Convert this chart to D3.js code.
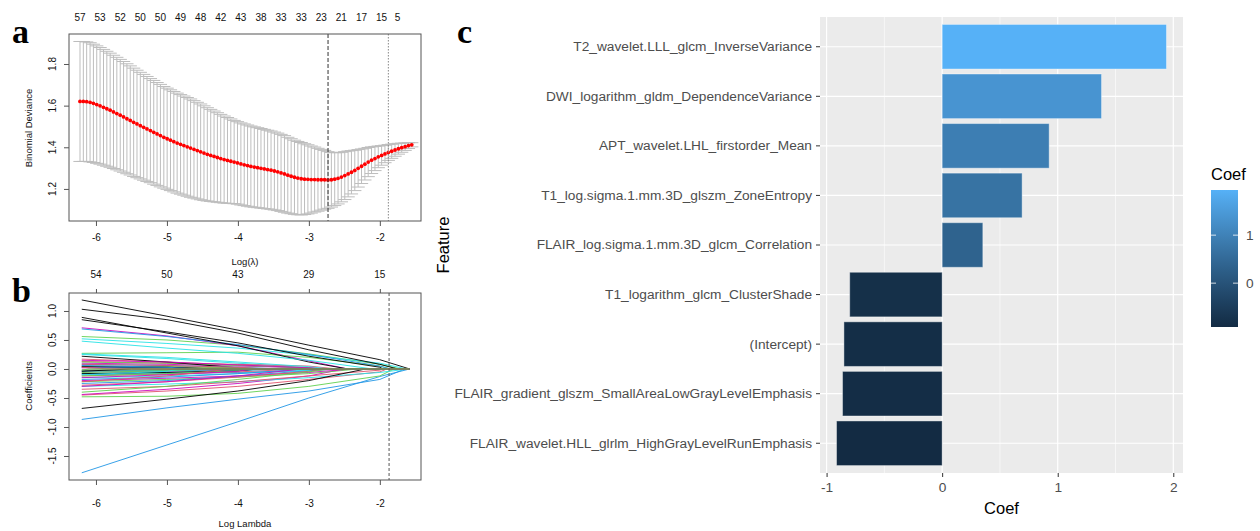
<!DOCTYPE html>
<html>
<head>
<meta charset="utf-8">
<script src="https://cdn.jsdelivr.net/npm/d3@7"></script>
<style>
  body { margin: 0; background: #fff; }
  svg { display: block; font-family: "Liberation Sans", Arial, sans-serif; }
</style>
</head>
<body>
<svg width="1260" height="531"></svg>
<script>
// ---------- panel a : cross-validated binomial deviance ----------
var logLambda = [
  -6.225, -6.178, -6.131, -6.083, -6.036, -5.989, -5.942, -5.894, -5.847, -5.800,
  -5.753, -5.706, -5.658, -5.611, -5.564, -5.517, -5.469, -5.422, -5.375, -5.328,
  -5.281, -5.233, -5.186, -5.139, -5.092, -5.044, -4.997, -4.950, -4.903, -4.856,
  -4.808, -4.761, -4.714, -4.667, -4.619, -4.572, -4.525, -4.478, -4.431, -4.383,
  -4.336, -4.289, -4.242, -4.194, -4.147, -4.100, -4.053, -4.006, -3.958, -3.911,
  -3.864, -3.817, -3.769, -3.722, -3.675, -3.628, -3.581, -3.533, -3.486, -3.439,
  -3.392, -3.344, -3.297, -3.250, -3.203, -3.156, -3.108, -3.061, -3.014, -2.967,
  -2.919, -2.872, -2.825, -2.778, -2.731, -2.683, -2.636, -2.589, -2.542, -2.494,
  -2.447, -2.400, -2.353, -2.306, -2.258, -2.211, -2.164, -2.117, -2.069, -2.022,
  -1.975, -1.928, -1.881, -1.833, -1.786, -1.739, -1.692, -1.644, -1.597, -1.550
];
var cvm = [
  1.620, 1.620, 1.619, 1.616, 1.611, 1.605, 1.599, 1.592, 1.585, 1.578,
  1.570, 1.562, 1.554, 1.546, 1.537, 1.529, 1.520, 1.512, 1.504, 1.496,
  1.488, 1.480, 1.472, 1.464, 1.456, 1.448, 1.441, 1.434, 1.427, 1.420,
  1.414, 1.408, 1.402, 1.396, 1.390, 1.384, 1.378, 1.372, 1.366, 1.361,
  1.356, 1.351, 1.346, 1.341, 1.337, 1.333, 1.329, 1.325, 1.320, 1.316,
  1.312, 1.308, 1.305, 1.302, 1.299, 1.296, 1.293, 1.290, 1.286, 1.282,
  1.277, 1.272, 1.266, 1.261, 1.256, 1.252, 1.249, 1.247, 1.246, 1.245,
  1.245, 1.244, 1.244, 1.244, 1.243, 1.244, 1.247, 1.251, 1.257, 1.264,
  1.272, 1.280, 1.289, 1.299, 1.309, 1.319, 1.329, 1.338, 1.346, 1.354,
  1.361, 1.368, 1.375, 1.381, 1.387, 1.393, 1.398, 1.403, 1.408, 1.412
];
var cvsd = [
  0.288, 0.288, 0.287, 0.286, 0.284, 0.282, 0.280, 0.278, 0.276, 0.274,
  0.272, 0.270, 0.268, 0.266, 0.264, 0.262, 0.260, 0.258, 0.256, 0.254,
  0.252, 0.250, 0.249, 0.247, 0.246, 0.244, 0.243, 0.242, 0.241, 0.240,
  0.239, 0.238, 0.237, 0.236, 0.234, 0.232, 0.230, 0.227, 0.224, 0.221,
  0.218, 0.215, 0.212, 0.209, 0.206, 0.203, 0.200, 0.198, 0.197, 0.196,
  0.195, 0.194, 0.193, 0.192, 0.191, 0.190, 0.189, 0.188, 0.187, 0.186,
  0.185, 0.184, 0.182, 0.180, 0.178, 0.176, 0.174, 0.170, 0.166, 0.161,
  0.156, 0.151, 0.146, 0.141, 0.136, 0.131, 0.127, 0.123, 0.119, 0.115,
  0.110, 0.104, 0.097, 0.090, 0.083, 0.076, 0.070, 0.064, 0.058, 0.052,
  0.047, 0.042, 0.038, 0.034, 0.030, 0.026, 0.022, 0.018, 0.014, 0.010
];
// number of non-zero coefficients printed along the top of panel a
var nzeroAt = [-6.225, -5.942, -5.658, -5.375, -5.092, -4.808, -4.525, -4.242, -3.958,
               -3.675, -3.392, -3.108, -2.825, -2.542, -2.258, -1.975, -1.75];
var nzeroLabels = ["57", "53", "52", "50", "50", "49", "48", "42", "43",
                   "38", "33", "33", "23", "21", "17", "15", "5"];
var lambdaMin = -2.73, lambda1se = -1.88;

// ---------- panel b : coefficient paths ----------
// value at logLambda -6.2, -5, -4, -3, -2 and the logLambda where it reaches 0
var pathKnots = [-6.2, -5, -4, -3, -2];
var pathEnd = -1.58;
var coefPaths = [
  [1.19, 0.91, 0.67, 0.41, 0.16, -1.58],
  [0.17, 0.12, 0.07, 0.02, 0, -2.85],
  [0.56, 0.50, 0.41, 0.26, 0.08, -1.70],
  [-1.79, -1.31, -0.91, -0.50, -0.13, -1.58],
  [0.52, 0.44, 0.36, 0.24, 0.10, -1.62],
  [0.71, 0.57, 0.40, 0.14, 0, -2.45],
  [1.03, 0.85, 0.62, 0.33, 0.08, -1.75],
  [-0.45, -0.38, -0.30, -0.18, -0.05, -1.90],
  [0.27, 0.28, 0.29, 0.20, 0.05, -1.85],
  [0.69, 0.56, 0.42, 0.25, 0.05, -1.85],
  [0.25, 0.18, 0.10, 0.02, 0, -2.90],
  [-0.44, -0.35, -0.25, -0.12, 0, -2.50],
  [0.89, 0.62, 0.40, 0.12, 0, -2.45],
  [0.13, 0.10, 0.08, 0.05, 0, -2.60],
  [-0.48, -0.47, -0.42, -0.30, -0.12, -1.80],
  [-0.87, -0.67, -0.52, -0.38, -0.18, -1.65],
  [-0.30, -0.26, -0.22, -0.15, -0.06, -1.60],
  [0.10, 0.08, 0.05, 0.02, 0, -2.70],
  [0.85, 0.64, 0.45, 0.22, 0.03, -1.95],
  [-0.35, -0.30, -0.22, -0.12, -0.02, -1.95],
  [-0.22, -0.18, -0.14, -0.08, 0, -2.30],
  [-0.10, -0.08, -0.06, -0.03, 0, -2.60],
  [0.48, 0.36, 0.27, 0.15, 0, -2.10],
  [-0.20, -0.16, -0.12, -0.06, 0, -2.40],
  [-0.68, -0.52, -0.38, -0.20, 0, -2.20],
  [0.05, 0.04, 0.02, 0, 0, -3.30],
  [0.12, 0.10, 0.06, 0.02, 0, -2.90],
  [-0.25, -0.20, -0.12, -0.03, 0, -2.80],
  [0.26, 0.20, 0.12, 0.04, 0, -2.70],
  [-0.05, -0.04, -0.02, 0, 0, -3.20],
  [0.22, 0.12, 0.02, 0, 0, -3.90],
  [-0.28, -0.22, -0.14, -0.04, 0, -2.75],
  [-0.40, -0.30, -0.18, -0.05, 0, -2.70],
  [0.08, 0.06, 0.03, 0, 0, -3.40],
  [-0.15, -0.12, -0.08, -0.02, 0, -2.90],
  [0.15, 0.12, 0.07, 0.02, 0, -2.80],
  [-0.02, -0.02, -0.01, 0, 0, -3.50],
  [-0.12, -0.09, -0.05, 0, 0, -3.10],
  [0.05, 0.04, 0.02, 0, 0, -3.60],
  [-0.18, -0.14, -0.08, 0, 0, -3.05],
  [-0.08, -0.06, -0.03, 0, 0, -3.40],
  [-0.30, -0.22, -0.12, 0, 0, -3.10],
  [-0.08, -0.06, -0.03, 0, 0, -3.70],
  [0.08, 0.06, 0.03, 0, 0, -3.60],
  [-0.12, -0.08, -0.03, 0, 0, -3.80],
  [0.03, 0.02, 0, 0, 0, -4.20],
  [-0.04, -0.03, -0.01, 0, 0, -3.90],
  [-0.15, -0.10, -0.04, 0, 0, -3.80],
  [0.04, 0.03, 0, 0, 0, -4.30],
  [-0.22, -0.12, 0, 0, 0, -4.10],
  [-0.06, -0.03, 0, 0, 0, -4.50],
  [0.06, 0.03, 0, 0, 0, -4.60],
  [-0.10, -0.04, 0, 0, 0, -4.80],
  [0.02, 0, 0, 0, 0, -5.20],
  [-0.04, 0, 0, 0, 0, -5.50],
  [0.03, 0, 0, 0, 0, -5.80],
  [-0.02, 0, 0, 0, 0, -6.10]
];
var dfTicks = [-6, -5, -4, -3, -2];
var dfLabels = ["54", "50", "43", "29", "15"];
var lambdaLine = -1.87;

// ---------- panel c : selected features ----------
var features = [
  "T2_wavelet.LLL_glcm_InverseVariance",
  "DWI_logarithm_gldm_DependenceVariance",
  "APT_wavelet.LHL_firstorder_Mean",
  "T1_log.sigma.1.mm.3D_glszm_ZoneEntropy",
  "FLAIR_log.sigma.1.mm.3D_glcm_Correlation",
  "T1_logarithm_glcm_ClusterShade",
  "(Intercept)",
  "FLAIR_gradient_glszm_SmallAreaLowGrayLevelEmphasis",
  "FLAIR_wavelet.HLL_glrlm_HighGrayLevelRunEmphasis"
];
var coefValues = [1.941, 1.379, 0.926, 0.692, 0.352, -0.800, -0.850, -0.862, -0.914];
var coefTicks = [-1, 0, 1, 2];
var coefMinor = [-0.5, 0.5, 1.5];
var legendTicks = [0, 1];

var svg = d3.select("svg");
var rcol = ["#000000", "#DF536B", "#61D04F", "#2297E6", "#28E2E5", "#CD0BBC"];

// shared x scale for the two base-R style panels
var x = d3.scaleLinear().domain([-6.38, -1.42]).range([69, 421]);
var ya = d3.scaleLinear().domain([1.046, 1.944]).range([221, 34]);
var yb = d3.scaleLinear().domain([-1.914, 1.31]).range([480, 293]);
var fs = 10;

function baseText(g, str, px, py, size, anchor, rot) {
  var t = g.append("text").text(str)
    .attr("font-size", size)
    .attr("fill", "#111")
    .attr("text-anchor", anchor || "middle");
  if (rot) t.attr("transform", "translate(" + px + "," + py + ") rotate(-90)");
  else t.attr("x", px).attr("y", py);
  return t;
}

// ---- panel a ----
var ga = svg.append("g");
var cv = logLambda.map(function(l, i) { return {l: l, m: cvm[i], s: cvsd[i]}; });
var barw = (logLambda[logLambda.length - 1] - logLambda[0]) * 0.02;

var eb = ga.append("g").attr("stroke", "#bdbdbd").attr("stroke-width", 1);
eb.selectAll(".v").data(cv).join("line")
  .attr("x1", function(d) { return x(d.l); }).attr("x2", function(d) { return x(d.l); })
  .attr("y1", function(d) { return ya(d.m + d.s); }).attr("y2", function(d) { return ya(d.m - d.s); });
eb.selectAll(".u").data(cv).join("line")
  .attr("x1", function(d) { return x(d.l - barw); }).attr("x2", function(d) { return x(d.l + barw); })
  .attr("y1", function(d) { return ya(d.m + d.s); }).attr("y2", function(d) { return ya(d.m + d.s); });
eb.selectAll(".lo").data(cv).join("line")
  .attr("x1", function(d) { return x(d.l - barw); }).attr("x2", function(d) { return x(d.l + barw); })
  .attr("y1", function(d) { return ya(d.m - d.s); }).attr("y2", function(d) { return ya(d.m - d.s); });

ga.append("g").selectAll("circle").data(cv).join("circle")
  .attr("cx", function(d) { return x(d.l); })
  .attr("cy", function(d) { return ya(d.m); })
  .attr("r", 1.9)
  .attr("fill", "red");

ga.append("line").attr("x1", x(lambdaMin)).attr("x2", x(lambdaMin))
  .attr("y1", 34).attr("y2", 221)
  .attr("stroke", "#333").attr("stroke-dasharray", "4,2");
ga.append("line").attr("x1", x(lambda1se)).attr("x2", x(lambda1se))
  .attr("y1", 34).attr("y2", 221)
  .attr("stroke", "#888").attr("stroke-dasharray", "1.5,1.5");

ga.append("rect").attr("x", 69).attr("y", 34).attr("width", 352).attr("height", 187)
  .attr("fill", "none").attr("stroke", "#555");

ga.append("g").attr("transform", "translate(0,221)")
  .call(d3.axisBottom(x).tickValues([-6, -5, -4, -3, -2]).tickSize(5).tickPadding(8)
    .tickFormat(function(d) { return String(d); }))
  .call(function(g) {
    g.select(".domain").remove();
    g.selectAll("line").attr("stroke", "#555");
    g.selectAll("text").attr("font-size", fs).attr("fill", "#111").attr("font-family", null);
  });
ga.append("g").attr("transform", "translate(69,0)")
  .call(d3.axisLeft(ya).tickValues([1.2, 1.4, 1.6, 1.8]).tickSize(5).tickFormat(""))
  .call(function(g) {
    g.select(".domain").remove();
    g.selectAll("line").attr("stroke", "#555");
  });
[1.2, 1.4, 1.6, 1.8].forEach(function(v) {
  baseText(ga, v.toFixed(1), 55.5, ya(v), fs, "middle", true);
});
nzeroAt.forEach(function(l, i) {
  baseText(ga, nzeroLabels[i], x(l), 20.5, fs);
});
baseText(ga, "Binomial Deviance", 32, 128, 9.5, "middle", true);
baseText(ga, "Log(\u03bb)", 245, 264.5, 9.5);

// ---- panel b ----
var gb = svg.append("g");
var line = d3.line().x(function(d) { return x(d[0]); }).y(function(d) { return yb(d[1]); });
coefPaths.forEach(function(p, i) {
  var zero = p[5];
  var pts = [];
  pathKnots.forEach(function(k, j) { if (k < zero) pts.push([k, p[j]]); });
  pts.push([zero, 0]);
  pts.push([pathEnd, 0]);
  gb.append("path").attr("d", line(pts))
    .attr("fill", "none")
    .attr("stroke", rcol[i % 6])
    .attr("stroke-width", 1)
    .attr("stroke-opacity", 0.9);
});
gb.append("line").attr("x1", x(lambdaLine)).attr("x2", x(lambdaLine))
  .attr("y1", 293).attr("y2", 480)
  .attr("stroke", "#555").attr("stroke-dasharray", "3,2");
gb.append("rect").attr("x", 69).attr("y", 293).attr("width", 352).attr("height", 187)
  .attr("fill", "none").attr("stroke", "#555");

gb.append("g").attr("transform", "translate(0,480)")
  .call(d3.axisBottom(x).tickValues([-6, -5, -4, -3, -2]).tickSize(5).tickPadding(15)
    .tickFormat(function(d) { return String(d); }))
  .call(function(g) {
    g.select(".domain").remove();
    g.selectAll("line").attr("stroke", "#555");
    g.selectAll("text").attr("font-size", fs).attr("fill", "#111").attr("font-family", null);
  });
gb.append("g").attr("transform", "translate(0,293)")
  .call(d3.axisTop(x).tickValues(dfTicks).tickSize(4).tickFormat(""))
  .call(function(g) {
    g.select(".domain").remove();
    g.selectAll("line").attr("stroke", "#555");
  });
dfTicks.forEach(function(t, i) { baseText(gb, dfLabels[i], x(t), 277.5, fs); });
var ybTicks = [1.0, 0.5, 0.0, -0.5, -1.0, -1.5];
gb.append("g").attr("transform", "translate(69,0)")
  .call(d3.axisLeft(yb).tickValues(ybTicks).tickSize(5).tickFormat(""))
  .call(function(g) {
    g.select(".domain").remove();
    g.selectAll("line").attr("stroke", "#555");
  });
ybTicks.forEach(function(v) { baseText(gb, v.toFixed(1), 55.5, yb(v), fs, "middle", true); });
baseText(gb, "Coefficients", 32, 386, 9.5, "middle", true);
baseText(gb, "Log Lambda", 245, 527, 9.5);

// ---- panel letters ----
[["a", 12, 43], ["b", 12, 302], ["c", 457, 43]].forEach(function(d) {
  svg.append("text").text(d[0]).attr("x", d[1]).attr("y", d[2])
    .attr("font-family", "'Liberation Serif', 'Times New Roman', serif")
    .attr("font-weight", "bold").attr("font-size", 34).attr("fill", "#000");
});

// ---- panel c (ggplot style) ----
var gc = svg.append("g");
var xc = d3.scaleLinear().domain([-1.057, 2.084]).range([820, 1183]);
var yc = d3.scaleBand().domain(features).range([17, 473]).paddingInner(0.1).paddingOuter(0.15);
var cext = d3.extent(coefValues);
var fill = d3.scaleLinear().domain(cext).range(["#132B43", "#56B1F7"]).interpolate(d3.interpolateLab);

gc.append("rect").attr("x", 820).attr("y", 17).attr("width", 363).attr("height", 456).attr("fill", "#EBEBEB");
gc.selectAll(".minor").data(coefMinor).join("line")
  .attr("x1", function(d) { return xc(d); }).attr("x2", function(d) { return xc(d); })
  .attr("y1", 17).attr("y2", 473).attr("stroke", "#fff").attr("stroke-width", 0.6);
gc.selectAll(".major").data(coefTicks).join("line")
  .attr("x1", function(d) { return xc(d); }).attr("x2", function(d) { return xc(d); })
  .attr("y1", 17).attr("y2", 473).attr("stroke", "#fff").attr("stroke-width", 1.2);
gc.selectAll(".hmajor").data(features).join("line")
  .attr("x1", 820).attr("x2", 1183)
  .attr("y1", function(d) { return yc(d) + yc.bandwidth() / 2; })
  .attr("y2", function(d) { return yc(d) + yc.bandwidth() / 2; })
  .attr("stroke", "#fff").attr("stroke-width", 1.2);

gc.selectAll(".bar").data(features).join("rect")
  .attr("x", function(d, i) { return xc(Math.min(0, coefValues[i])); })
  .attr("width", function(d, i) { return Math.abs(xc(coefValues[i]) - xc(0)); })
  .attr("y", function(d) { return yc(d); })
  .attr("height", yc.bandwidth())
  .attr("fill", function(d, i) { return fill(coefValues[i]); })
  .attr("stroke", "#fff").attr("stroke-opacity", 0.4).attr("stroke-width", 1);

gc.append("g").attr("transform", "translate(820,0)")
  .call(d3.axisLeft(yc).tickSize(4).tickPadding(4))
  .call(function(g) {
    g.select(".domain").remove();
    g.selectAll("line").attr("stroke", "#333").attr("stroke-width", 1);
    g.selectAll("text").attr("font-size", 13.7).attr("fill", "#4D4D4D").attr("font-family", null);
  });
gc.append("g").attr("transform", "translate(0,473)")
  .call(d3.axisBottom(xc).tickValues(coefTicks).tickSize(4).tickPadding(5)
    .tickFormat(function(d) { return String(d); }))
  .call(function(g) {
    g.select(".domain").remove();
    g.selectAll("line").attr("stroke", "#333").attr("stroke-width", 1);
    g.selectAll("text").attr("font-size", 13.7).attr("fill", "#4D4D4D").attr("font-family", null);
  });
gc.append("text").text("Coef").attr("x", 1001.5).attr("y", 514)
  .attr("text-anchor", "middle").attr("font-size", 16.5).attr("fill", "#000");
gc.append("text").text("Feature")
  .attr("transform", "translate(449,245) rotate(-90)")
  .attr("text-anchor", "middle").attr("font-size", 16.5).attr("fill", "#000");

// legend colourbar
var ly = d3.scaleLinear().domain(cext).range([327, 190]);
var grad = svg.append("defs").append("linearGradient").attr("id", "cbar")
  .attr("x1", 0).attr("y1", 1).attr("x2", 0).attr("y2", 0);
d3.range(0, 1.0001, 0.1).forEach(function(t) {
  grad.append("stop").attr("offset", t).attr("stop-color", fill(cext[0] + t * (cext[1] - cext[0])));
});
gc.append("text").text("Coef").attr("x", 1211).attr("y", 180).attr("font-size", 16.5).attr("fill", "#000");
gc.append("rect").attr("x", 1211).attr("y", 190).attr("width", 27).attr("height", 137)
  .attr("fill", "url(#cbar)");
legendTicks.forEach(function(v) {
  gc.append("line").attr("x1", 1211).attr("x2", 1216).attr("y1", ly(v)).attr("y2", ly(v))
    .attr("stroke", "#fff").attr("stroke-width", 0.8);
  gc.append("line").attr("x1", 1233).attr("x2", 1238).attr("y1", ly(v)).attr("y2", ly(v))
    .attr("stroke", "#fff").attr("stroke-width", 0.8);
  gc.append("text").text(String(v)).attr("x", 1246).attr("y", ly(v)).attr("dy", "0.35em")
    .attr("font-size", 13.7).attr("fill", "#4D4D4D");
});
</script>
</body>
</html>
